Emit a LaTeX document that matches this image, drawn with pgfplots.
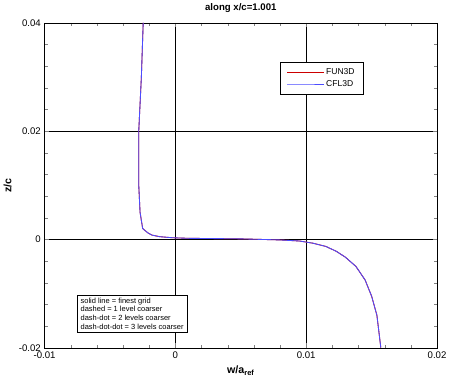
\documentclass[border=0pt]{standalone}
\usepackage{pgfplots}
\pgfplotsset{compat=1.18}
\usepackage{fontspec}
\setmainfont{Liberation Sans}
\begin{document}
\begin{tikzpicture}
\begin{axis}[width=366bp,height=303bp,scale only axis,scaled ticks=false,
xmin=-0.01,xmax=0.02,ymin=-0.02,ymax=0.04,
xtick={-0.01,0,0.01,0.02},ytick={-0.02,0,0.02,0.04},
xticklabels={-0.01,0,0.01,0.02},yticklabels={-0.02,0,0.02,0.04},
minor x tick num=4,minor y tick num=4,
tick align=inside,grid=major,major grid style={black,thin},
tick label style={font=\small},
xlabel={\textbf{w/a\textsubscript{ref}}},ylabel={\textbf{z/c}},
title={\textbf{along x/c=1.001}},title style={font=\small},
legend style={at={(0.6,0.88)},anchor=north west,font=\footnotesize,draw=black,cells={anchor=west},inner xsep=6pt,inner ysep=4pt},
legend image post style={xscale=2},
legend cell align=left]
\addplot[red!80!black,thick] coordinates {(-0.00246,0.04)(-0.0026,0.03)(-0.0028,0.02)(-0.0028,0.01)(-0.0027,0.005)(-0.0025,0.002)(-0.0021,0.0012)(-0.0018,0.0008)(-0.0012,0.0005)(-0.0002,0.0003)(0.001,0.0002)(0.005,0.0001)(0.008,-0.0001)(0.0095,-0.0003)(0.0105,-0.0007)(0.0115,-0.0013)(0.0123,-0.0022)(0.013,-0.0033)(0.0138,-0.005)(0.0145,-0.0075)(0.015,-0.0105)(0.0154,-0.014)(0.0157,-0.02)};
\addlegendentry{FUN3D}
\addplot[blue!70!white,thick] coordinates {(-0.00246,0.04)(-0.0026,0.03)(-0.0028,0.02)(-0.0028,0.01)(-0.0027,0.005)(-0.0025,0.002)(-0.0021,0.0012)(-0.0018,0.0008)(-0.0012,0.0005)(-0.0002,0.0003)(0.001,0.0002)(0.005,0.0001)(0.008,-0.0001)(0.0095,-0.0003)(0.0105,-0.0007)(0.0115,-0.0013)(0.0123,-0.0022)(0.013,-0.0033)(0.0138,-0.005)(0.0145,-0.0075)(0.015,-0.0105)(0.0154,-0.014)(0.0157,-0.02)};
\addlegendentry{CFL3D}
\node[draw,fill=white,anchor=south west,align=left,font=\scriptsize,inner sep=3pt] at (axis cs:-0.0075,-0.0172) {solid line = finest grid\\dashed = 1 level coarser\\dash-dot = 2 levels coarser\\dash-dot-dot = 3 levels coarser};
\end{axis}
\end{tikzpicture}
\end{document}
